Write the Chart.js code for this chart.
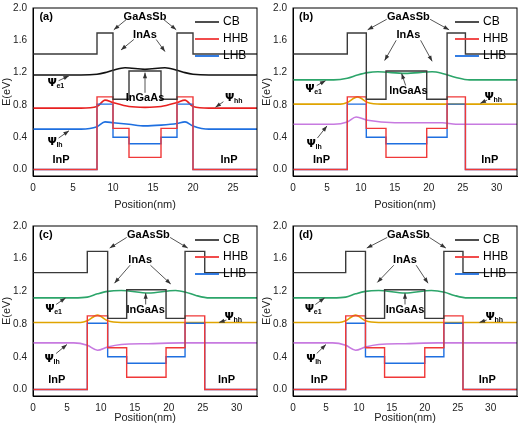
<!DOCTYPE html>
<html><head><meta charset="utf-8">
<script src="https://cdn.jsdelivr.net/npm/chart.js@4"></script>
<style>body{margin:0;background:#fff;width:520px;height:425px;position:relative;overflow:hidden}
canvas{position:absolute}</style></head><body>
<canvas id="ca" style="left:0;top:0"></canvas>
<canvas id="cb" style="left:260px;top:0"></canvas>
<canvas id="cc" style="left:0;top:212px"></canvas>
<canvas id="cd" style="left:260px;top:212px"></canvas>
<script>
// band levels per segment: outer InP, GaAsSb, InAs, InGaAs, InAs, GaAsSb, InP
const cbLevels  = [1.43, 1.69, 0.87, 1.22, 0.87, 1.69, 1.43];
const hhbLevels = [0.00, 0.90, 0.51, 0.15, 0.51, 0.90, 0.00];
const lhbLevels = [0.00, 0.81, 0.40, 0.32, 0.40, 0.81, 0.00];
const yTicks = [0, 0.4, 0.8, 1.2, 1.6, 2.0];
// panel boundaries (nm)
const boundsA = [0, 8, 10, 12, 16, 18, 20, 28];
const boundsB = [0, 8, 10.8, 13.7, 19.7, 22.7, 25.4, 33];
const boundsC = [0, 8, 11, 13.8, 19.6, 22.4, 25.3, 33];
const boundsD = [0, 8, 11, 13.9, 20, 22.9, 25.8, 34];
const xTicksA = [0, 5, 10, 15, 20, 25];
const xTicksB = [0, 5, 10, 15, 20, 25, 30];
// wavefunctions
const e1xA = [0, 6, 8, 9, 10, 11.5, 14, 16.5, 18, 19, 20, 22, 28];
const e1yA = [1.17, 1.17, 1.18, 1.20, 1.23, 1.26, 1.24, 1.26, 1.23, 1.20, 1.18, 1.17, 1.17];
const hhxA = [0, 6, 8, 9, 10, 12, 14, 16, 18, 19, 20, 22, 28];
const hhyA = [0.76, 0.76, 0.78, 0.86, 0.83, 0.78, 0.77, 0.78, 0.83, 0.86, 0.78, 0.76, 0.76];
const lhxA = [0, 6, 8, 9, 10, 12, 14, 16, 18, 19, 20, 22, 28];
const lhyA = [0.50, 0.50, 0.53, 0.59, 0.58, 0.56, 0.54, 0.55, 0.57, 0.59, 0.54, 0.50, 0.50];
const e1xB = [0, 6, 8, 9.5, 11, 12.5, 16.5, 20.5, 22, 24, 26, 33];
const e1yB = [1.11, 1.11, 1.13, 1.17, 1.20, 1.21, 1.19, 1.21, 1.19, 1.14, 1.11, 1.11];
const hhxB = [0, 7, 8, 9.5, 11, 13, 33];
const hhyB = [0.81, 0.81, 0.83, 0.90, 0.83, 0.81, 0.81];
const lhxB = [0, 6, 8, 9.3, 11, 15, 22, 24, 33];
const lhyB = [0.56, 0.56, 0.59, 0.65, 0.61, 0.58, 0.58, 0.56, 0.56];
const e1xC = [0, 6, 8, 9.5, 11, 13, 17, 21, 22.5, 24, 26, 33];
const e1yC = [1.12, 1.12, 1.13, 1.17, 1.20, 1.21, 1.18, 1.21, 1.19, 1.15, 1.12, 1.12];
const hhxC = [0, 7, 8, 9.5, 11, 13, 33];
const hhyC = [0.82, 0.82, 0.84, 0.91, 0.84, 0.82, 0.82];
const lhxC = [0, 6, 8, 9.5, 11, 13, 17, 22, 33];
const lhyC = [0.57, 0.57, 0.54, 0.48, 0.52, 0.55, 0.56, 0.57, 0.57];
const e1xD = [0, 6, 8, 9.5, 11, 13, 17, 21, 23, 24.5, 26.5, 34];
const e1yD = [1.12, 1.12, 1.13, 1.17, 1.20, 1.21, 1.18, 1.21, 1.19, 1.15, 1.12, 1.12];
const hhxD = [0, 7, 8, 9.5, 11, 13, 34];
const hhyD = [0.82, 0.82, 0.84, 0.91, 0.84, 0.82, 0.82];
const lhxD = [0, 6, 8, 9.5, 11, 13, 17, 22, 34];
const lhyD = [0.57, 0.57, 0.54, 0.48, 0.52, 0.55, 0.56, 0.57, 0.57];

function step(b, lv){const p=[];for(let i=0;i<lv.length;i++){p.push({x:b[i],y:lv[i]});p.push({x:b[i+1],y:lv[i]});}return p;}
function pts(xs,ys){return xs.map((x,i)=>({x,y:ys[i]}));}

const CB='#3a3a3a', HH='#f03838', LH='#1e6fe0';
function annot(ann){return {id:'ann',afterDatasetsDraw(ch){
  const c=ch.ctx,xs=ch.scales.x,ys=ch.scales.y,a=ch.chartArea;
  c.save();c.strokeStyle='#000';c.lineWidth=1;c.strokeRect(a.left,a.top,a.right-a.left,a.bottom-a.top);
  const X=v=>xs.getPixelForValue(v),Y=v=>ys.getPixelForValue(v);
  c.fillStyle='#000';c.textBaseline='middle';
  for(const t of ann){
    c.font='bold 11px "Liberation Sans",Arial';c.textAlign=t.al||'center';
    let px=X(t.x),py=Y(t.y);
    if(t.sub){c.font='bold 11px "DejaVu Sans"';c.textAlign='left';c.fillText('Ψ',px,py);
      c.font='bold 7px "Liberation Sans"';c.fillText(t.sub,px+9,py+3);}
    else c.fillText(t.t,px,py);
    for(const ar of (t.ar||[])){
      const sx=X(ar[0]),sy=Y(ar[1]),ex=X(ar[2]),ey=Y(ar[3]);
      c.strokeStyle='#555';c.beginPath();c.moveTo(sx,sy);c.lineTo(ex,ey);c.stroke();
      const an=Math.atan2(ey-sy,ex-sx);c.fillStyle='#333';c.beginPath();c.moveTo(ex,ey);
      c.lineTo(ex-6*Math.cos(an-0.35),ey-6*Math.sin(an-0.35));c.lineTo(ex-6*Math.cos(an+0.35),ey-6*Math.sin(an+0.35));c.fill();c.fillStyle='#000';
    }
  }
  // legend
  const lx=a.right-62,ly=a.top+14;
  [['CB',CB],['HHB',HH],['LHB',LH]].forEach((e,i)=>{c.strokeStyle=e[1];c.lineWidth=1.8;c.beginPath();
    c.moveTo(lx,ly+i*17);c.lineTo(lx+24,ly+i*17);c.stroke();c.fillStyle='#000';
    c.font='12px "Liberation Sans",Arial';c.textAlign='left';c.fillText(e[0],lx+28,ly+i*17);});
  c.restore();}};}

function make(id,w,h,b,xt,waves,wc,ann,top,axH){
  const cv=document.getElementById(id);cv.width=w;cv.height=h;cv.style.width=w+'px';cv.style.height=h+'px';
  const ds=[
    {data:step(b,cbLevels),borderColor:CB,borderWidth:1.4},
    {data:step(b,hhbLevels),borderColor:HH,borderWidth:1.4},
    {data:step(b,lhbLevels),borderColor:LH,borderWidth:1.4}];
  waves.forEach((wv,i)=>ds.push({data:wv,borderColor:wc[i],borderWidth:1.6,cubicInterpolationMode:'monotone'}));
  ds.forEach(d=>{d.pointRadius=0;d.fill=false;});
  new Chart(cv,{type:'line',data:{datasets:ds},plugins:[annot(ann)],options:{
    responsive:false,animation:false,devicePixelRatio:1,
    layout:{padding:{top:top,right:3,left:0,bottom:0}},
    plugins:{legend:{display:false},tooltip:{enabled:false}},
    scales:{
      x:{type:'linear',min:0,max:b[b.length-1],afterBuildTicks:s=>{s.ticks=xt.map(v=>({value:v}));},
        afterFit:s=>{s.height=axH;},grid:{display:false,drawTicks:true,tickLength:4,tickColor:'#000'},border:{color:'#000'},
        ticks:{color:'#222',font:{size:10,family:'Liberation Sans'},padding:2,maxRotation:0},
        title:{display:true,text:'Position(nm)',color:'#222',font:{size:11,family:'Liberation Sans'},padding:{top:0,bottom:0}}},
      y:{min:-0.08,max:2.0,afterBuildTicks:s=>{s.ticks=yTicks.map(v=>({value:v}));},afterFit:s=>{s.width=33;},
        grid:{display:false,tickLength:4,tickColor:'#000'},border:{color:'#000'},
        ticks:{color:'#222',font:{size:10,family:'Liberation Sans'},padding:2,callback:v=>v.toFixed(1)},
        title:{display:true,text:'E(eV)',color:'#222',font:{size:11,family:'Liberation Sans'},padding:0}}}}});
}
const wcA=['#111','#e82020','#1e6fe0'], wcB=['#2ca56a','#e0a400','#c77ae0'];
make('ca',260,212,boundsA,xTicksA,[pts(e1xA,e1yA),pts(hhxA,hhyA),pts(lhxA,lhyA)],wcA,[
 {t:'(a)',x:0.8,y:1.89,al:'left'},
 {t:'GaAsSb',x:14,y:1.89,ar:[[11.7,1.86,10.1,1.73],[16.3,1.86,17.9,1.73]]},
 {t:'InAs',x:14,y:1.67,ar:[[12.6,1.61,11,1.48],[15.4,1.61,16.5,1.46]]},
 {t:'InGaAs',x:14,y:0.88,ar:[[14,0.95,14,1.2]]},
 {sub:'e1',x:1.8,y:1.07,ar:[[3.2,1.1,4.5,1.16]]},
 {sub:'hh',x:24,y:0.88,ar:[[23.8,0.84,22.8,0.77]]},
 {sub:'lh',x:1.8,y:0.34,ar:[[3.2,0.39,4.5,0.48]]},
 {t:'InP',x:3.5,y:0.12},{t:'InP',x:24.5,y:0.12}],5,36);
make('cb',260,212,boundsB,xTicksB,[pts(e1xB,e1yB),pts(hhxB,hhyB),pts(lhxB,lhyB)],wcB,[
 {t:'(b)',x:0.9,y:1.89,al:'left'},
 {t:'GaAsSb',x:17,y:1.89,ar:[[13.8,1.86,11,1.73],[20.2,1.86,23,1.73]]},
 {t:'InAs',x:17,y:1.67,ar:[[15.2,1.6,13.5,1.35],[18.8,1.6,20.5,1.34]]},
 {t:'InGaAs',x:17,y:0.97,ar:[[16.6,1.04,16,1.19]]},
 {sub:'e1',x:1.8,y:1.0,ar:[[3.5,1.04,4.8,1.1]]},
 {sub:'hh',x:28.2,y:0.9,ar:[[28.6,0.86,27.6,0.82]]},
 {sub:'lh',x:2,y:0.32,ar:[[3.6,0.39,5,0.54]]},
 {t:'InP',x:4.2,y:0.12},{t:'InP',x:29,y:0.12}],5,36);
make('cc',260,213,boundsC,xTicksB,[pts(e1xC,e1yC),pts(hhxC,hhyC),pts(lhxC,lhyC)],wcB,[
 {t:'(c)',x:0.9,y:1.89,al:'left'},
 {t:'GaAsSb',x:17,y:1.89,ar:[[13.8,1.86,11.3,1.73],[20.2,1.86,22.8,1.73]]},
 {t:'InAs',x:15.8,y:1.59,ar:[[14.3,1.52,12,1.3],[17.3,1.52,20.3,1.29]]},
 {t:'InGaAs',x:16.6,y:0.97,ar:[[16.6,1.04,16.6,1.18]]},
 {sub:'e1',x:1.8,y:0.98,ar:[[3.4,1.04,4.8,1.12]]},
 {sub:'hh',x:28.2,y:0.89,ar:[[28.5,0.85,27.4,0.82]]},
 {sub:'lh',x:1.7,y:0.37,ar:[[3.4,0.44,5,0.55]]},
 {t:'InP',x:3.5,y:0.12},{t:'InP',x:28.5,y:0.12}],14,29);
make('cd',260,213,boundsD,xTicksB,[pts(e1xD,e1yD),pts(hhxD,hhyD),pts(lhxD,lhyD)],wcB,[
 {t:'(d)',x:0.9,y:1.89,al:'left'},
 {t:'GaAsSb',x:17.5,y:1.89,ar:[[14.3,1.86,11.2,1.73],[20.7,1.86,23.2,1.73]]},
 {t:'InAs',x:17,y:1.59,ar:[[15.3,1.52,12.8,1.31],[18.7,1.52,20.5,1.3]]},
 {t:'InGaAs',x:17,y:0.97,ar:[[17,1.04,17,1.18]]},
 {sub:'e1',x:1.8,y:0.98,ar:[[3.4,1.04,4.8,1.12]]},
 {sub:'hh',x:29.2,y:0.89,ar:[[29.4,0.85,28.3,0.82]]},
 {sub:'lh',x:2,y:0.37,ar:[[3.6,0.44,5,0.55]]},
 {t:'InP',x:4,y:0.12},{t:'InP',x:29.5,y:0.12}],14,29);
</script></body></html>
